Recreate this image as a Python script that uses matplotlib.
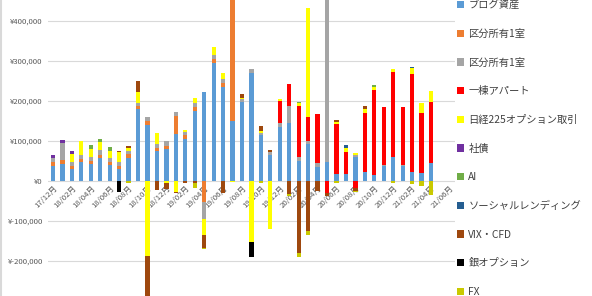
import matplotlib
matplotlib.use("Agg")
import matplotlib.pyplot as plt
import numpy as np
from matplotlib.patches import Patch
from matplotlib.lines import Line2D
from matplotlib.ticker import FuncFormatter

plt.rcParams['font.family'] = ['Noto Sans CJK JP', 'DejaVu Sans']

months = ["17/12月"] + [f"{y}/{m:02d}月" for y in (18, 19, 20) for m in range(1, 13)] + [f"21/{m:02d}月" for m in range(1, 7)]

# values in thousand yen, 17/12 .. 21/06
blog = [38, 43, 30, 48, 42, 58, 39, 29, 58, 179, 140, 74, 80, 117, 104, 175, 223, 294, 234, 150, 198, 269, 115, 65, 136, 146, 51, 92, 34, 47, 17, 17, 61, 23, 15, 38, 59, 37, 23, 19, 44, 0, 0]
kubun1 = [9, 9, 7.5, 8, 9, 8, 9, 8.5, 9, 9, 10, 9, 8, 46, 10, 10, -52, 10, 10, 320, 0, 0, 0, 0, 0, 0, 0, 0, 0, 0, 0, 0, 0, 0, 0, 0, 0, 0, 0, 0, 0, 0, 0]
kubun2 = [10, 42, 9, 9, 10, 11, 10, 9, 9, 8, 9, 9, 12, 10, 9, 10, -43, 11, 10, 0, 6, 10, 6, 8, 10, 42, 10, 8, 10, 420, 0, 0, 4, 0, 0, 3, 0, 2, 0, 2, 0, 0, 0]
apart = [0]*24 + [55, 55, 127, 60, 123, -29, 125, 56, -18, 146, 212, 145, 213, 146, 244, 148, 153, 0, 0]
nikkei = [0, 0, 21, 35, 19, 21, 18, 25, 7, 27, -187, 29, -6, -27, 5, 12, -40, 21, 17, -2, 4, -153, 3, -121, 5, 0, 7, 273, 0, 0, 5, 9, 6, 10, 9, 0, 7, 0, 15, 27, 29, 0, 0]
bond = [8, 8, 8.5] + [0]*40
ai = [0, 0, 0, 0, 11, 6, 8] + [0]*19 + [2] + [0]*7 + [4, 0, 2] + [0]*6
social = [0]*31 + [7, 0, 0, 0, 0, 0, 0, 3, 0, 0, 0, 0]
vix = [0, 0, 0, 0, 0, 0, 0, 3, 4, 28, -150, -22.5, -14, -4, -4, -6, -33, 0, -31, 0, 9, 0, 14, 4, 0, -33, -179, -124, -26, -8, 5, 0, -6, 8, 0, 0, 0, 0, 0, 0, 0, 0, 0]
silver = [0]*7 + [-27] + [0]*13 + [-38] + [0]*21
fx = [0]*8 + [-4] + [0]*6 + [-12, -2] + [0]*5 + [-4, 0, 0, -5, -12, -11, 0, 0, -6, 0, -3, 0, 0, 0, -4, 0, -7, -12, -35, 0, 0]

series_names = ["ブログ資産", "区分所有1室", "区分所有1室", "一棟アパート", "日経225オプション取引", "社債", "AI",
                "ソーシャルレンディング", "VIX・CFD", "銀オプション", "FX"]
series_vals = [blog, kubun1, kubun2, apart, nikkei, bond, ai, social, vix, silver, fx]
colors = ["#5B9BD5", "#ED7D31", "#A5A5A5", "#FF0000", "#FFFF00", "#7030A0", "#70AD47",
          "#255E91", "#9E480E", "#000000", "#C9C900"]

W, H = 592, 296
fig = plt.figure(figsize=(W/100, H/100), dpi=100)
ax = fig.add_axes([48.3/W, 0, 406.3/W, 1])

x = np.arange(len(months))
pos_base = np.zeros(len(months))
neg_base = np.zeros(len(months))
for name, vals, c in zip(series_names, series_vals, colors):
    v = np.array(vals, dtype=float) * 1000
    bottom = np.where(v >= 0, pos_base, neg_base)
    ax.bar(x, v, bottom=bottom, width=0.45, color=c, linewidth=0, zorder=3)
    pos_base += np.where(v > 0, v, 0)
    neg_base += np.where(v < 0, v, 0)

ax.set_xlim(-0.5, len(months) - 0.5)
ax.set_ylim(-287500, 452500)
ax.set_yticks(np.arange(-200000, 400001, 100000))
ax.yaxis.set_major_formatter(FuncFormatter(lambda v, p: f"¥{int(v):,}"))
ax.grid(axis='y', color='#D9D9D9', linewidth=0.8, zorder=0)
for s in ax.spines.values():
    s.set_visible(False)
ax.spines['bottom'].set_position(('data', 0))
ax.tick_params(axis='y', length=0, pad=4, labelsize=5.6, labelcolor='#595959')
ax.tick_params(axis='x', length=0, pad=2.5, labelsize=5.6, labelcolor='#595959')
ax.set_xticks(x[::2])
ax.set_xticklabels(months[::2], rotation=45, ha='right', va='top', rotation_mode='anchor')

handles = [Patch(facecolor=c, edgecolor='none') for c in colors]
fig.legend(handles, series_names, loc='upper left', bbox_to_anchor=(457/W, 1.0),
           frameon=False, fontsize=7.4, labelcolor='#404040', borderpad=0.0,
           handlelength=0.7, handleheight=0.7, handletextpad=0.4, labelspacing=1.81,
           borderaxespad=0)

fig.add_artist(Line2D([1/W, 1/W], [0, 1], color='#D9D9D9', linewidth=1.5, transform=fig.transFigure))

fig.savefig("out.png", dpi=100)
